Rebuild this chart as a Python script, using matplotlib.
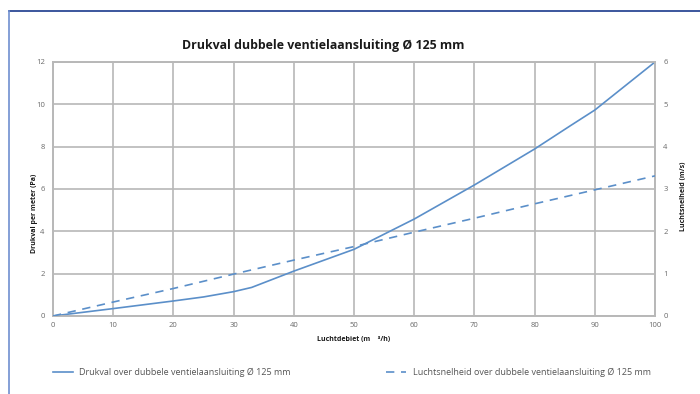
import matplotlib
matplotlib.use("Agg")
from matplotlib import pyplot as plt
from matplotlib.lines import Line2D

plt.rcParams['font.family'] = ['Open Sans', 'DejaVu Sans']

# luchtdebiet (m3/h) en drukval per meter (Pa)
debiet = [0, 10, 20, 25, 30, 33, 40, 50, 60, 70, 80, 86, 90, 100]
drukval = [0, 0.35, 0.71, 0.9, 1.15, 1.35, 2.12, 3.15, 4.58, 6.19, 7.89, 9.0, 9.73, 12.0]

# luchtsnelheid (m/s)
debiet_v = [0, 10, 20, 30, 40, 50, 60, 70, 80, 90, 100]
snelheid = [0, 0.33, 0.65, 0.99, 1.32, 1.64, 1.98, 2.31, 2.65, 2.98, 3.31]

x_ticks = [0, 10, 20, 30, 40, 50, 60, 70, 80, 90, 100]
y_ticks = [0, 2, 4, 6, 8, 10, 12]
y2_ticks = [0, 1, 2, 3, 4, 5, 6]

blue = '#5b8fc9'
grid_c = '#b8b8b8'
tick_c = '#6a6a6a'

fig = plt.figure(figsize=(7, 3.94), dpi=100)
ax = fig.add_axes([53/700, 1 - 316/394, 602/700, 254/394])
ax2 = ax.twinx()

ax.plot(debiet, drukval, color=blue, lw=1.2, zorder=5)
ax2.plot(debiet_v, snelheid, color=blue, lw=1.2, ls=(0, (5, 4)), zorder=5)

ax.set_xlim(0, 100)
ax.set_ylim(0, 12)
ax2.set_ylim(0, 6)
ax.set_xticks(x_ticks)
ax.set_yticks(y_ticks)
ax2.set_yticks(y2_ticks)

ax.grid(True, color=grid_c, lw=1.2)
ax.set_axisbelow(True)
for a in (ax, ax2):
    for s in a.spines.values():
        s.set_color(grid_c)
        s.set_linewidth(1.2)
    a.tick_params(length=0, labelsize=5.5, labelcolor=tick_c, pad=6)
ax.tick_params(axis='x', pad=4)

fig.text(323/700, 1 - 45/394, 'Drukval dubbele ventielaansluiting Ø 125 mm',
         ha='center', va='center', fontsize=8.9, fontweight='bold', color='#1a1a1a')
fig.text(354/700, 1 - 339/394, 'Luchtdebiet (m    ³/h)', ha='center', va='center',
         fontsize=5, fontweight='bold', color='#1a1a1a')
fig.text(35/700, 1 - 213/394, 'Drukval per meter (Pa)', ha='center', va='center',
         rotation=90, fontsize=5, fontweight='bold', color='#1a1a1a')
fig.text(683/700, 1 - 196/394, 'Luchtsnelheid (m/s)', ha='center', va='center',
         rotation=90, fontsize=5, fontweight='bold', color='#1a1a1a')

# legenda onderaan
fig.add_artist(Line2D([53/700, 73/700], [1 - 372/394] * 2, color=blue, lw=1.2))
fig.text(79/700, 1 - 372/394, 'Drukval over dubbele ventielaansluiting Ø 125 mm',
         ha='left', va='center', fontsize=6.45, color='#555555')
fig.add_artist(Line2D([386/700, 406/700], [1 - 372/394] * 2, color=blue, lw=1.2,
                      ls=(0, (5, 4))))
fig.text(413/700, 1 - 372/394, 'Luchtsnelheid over dubbele ventielaansluiting Ø 125 mm',
         ha='left', va='center', fontsize=6.45, color='#555555')

# kader
fig.add_artist(Line2D([9/700, 1], [1 - 11/394] * 2, color='#1a3a8c', lw=1.2))
fig.add_artist(Line2D([9/700, 9/700], [0, 1 - 11/394], color='#6f8fd0', lw=1.2))

fig.savefig('out.png', dpi=100)
